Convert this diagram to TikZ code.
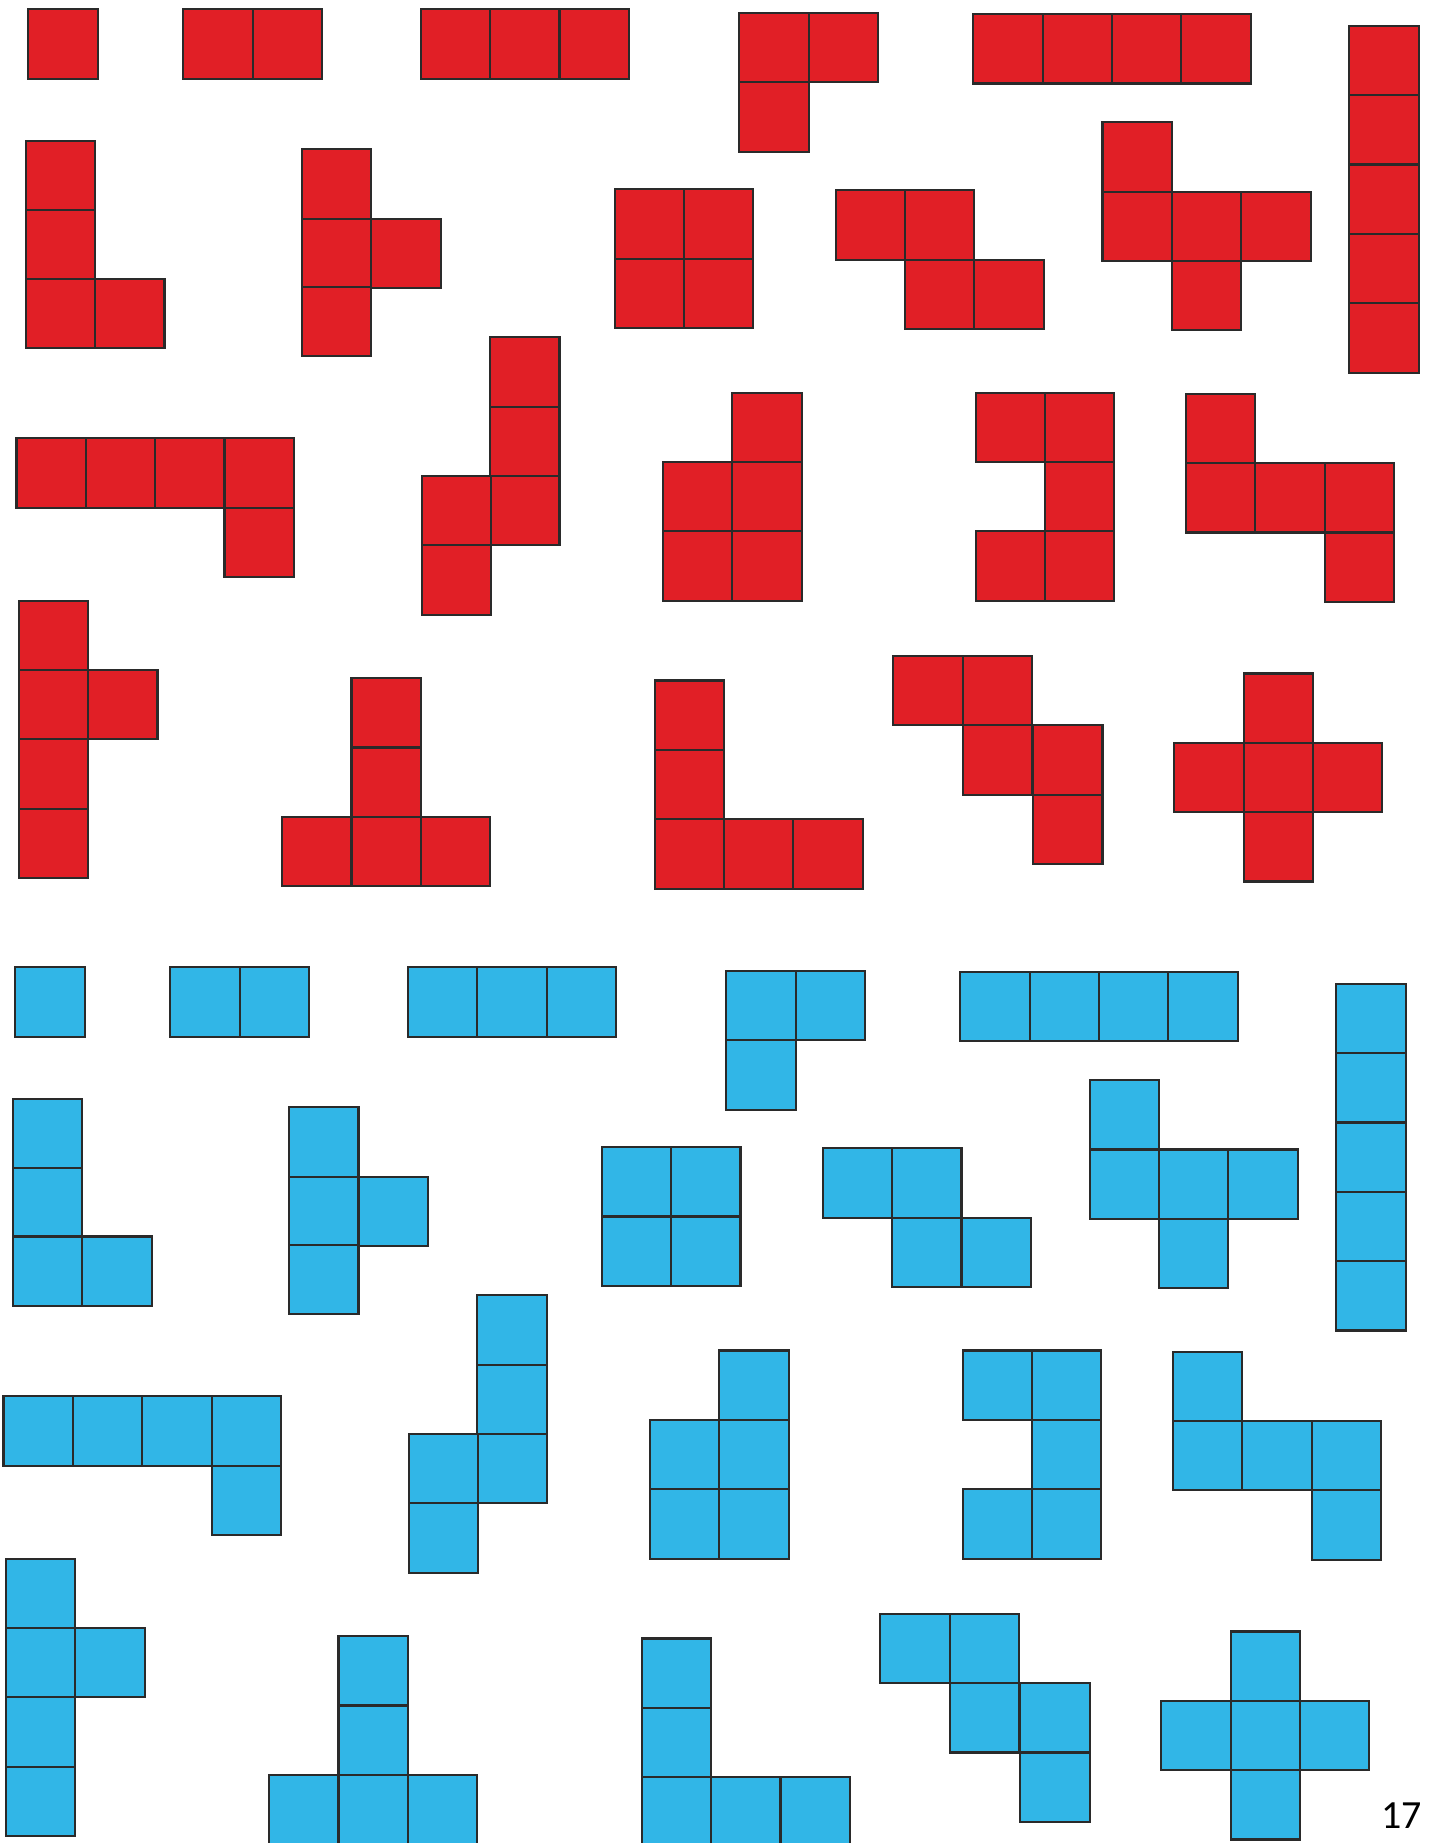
\documentclass[tikz,border=0pt]{standalone}
\usepackage{fontspec}
\setmainfont{Carlito}
\definecolor{pred}{HTML}{E11F26}
\definecolor{pblue}{HTML}{31B6E7}
\definecolor{pedge}{HTML}{2A2A2A}
\newcommand\sqlist{%
  24/8, 156/8, 215/8, 358/8, 417/8, 476/8,
  629/11, 688/11, 629/70,
  828/12, 887/12, 946/12, 1005/12,
  1148/22, 1148/81, 1148/140, 1148/199, 1148/258,
  22/120, 22/179, 22/237, 81/237,
  257/127, 257/186, 316/186, 257/244,
  523/161, 582/161, 523/220, 582/220,
  711/162, 770/162, 770/221, 829/221,
  938/104, 938/163, 997/163, 1056/163, 997/222,
  14/373, 73/373, 132/373, 191/373, 191/432,
  417/287, 417/346, 417/405, 359/405, 359/464,
  623/334, 564/393, 623/393, 564/452, 623/452,
  830/334, 889/334, 889/393, 830/452, 889/452,
  1009/335, 1009/394, 1068/394, 1127/394, 1127/453,
  16/511, 16/570, 75/570, 16/629, 16/688,
  299/577, 299/636, 240/695, 299/695, 358/695,
  557/579, 557/638, 557/697, 616/697, 675/697,
  760/558, 819/558, 819/617, 879/617, 879/676,
  1058/573, 999/632, 1058/632, 1117/632, 1058/691}
\tikzset{
  cell/.style={draw=pedge, line width=0.9pt},
  redcell/.style={cell, fill=pred},
  bluecell/.style={cell, fill=pblue},
  pagenum/.style={font=\fontsize{17}{20}\selectfont, inner sep=0pt, anchor=south east}
}
\begin{document}
\begin{tikzpicture}[x=0.5pt,y=-0.5pt]
\useasboundingbox (0,0) rectangle (1218,1568);
\fill[white] (0,0) rectangle (1218,1568);
\clip (0,0) rectangle (1218,1568);
\foreach \x/\y in \sqlist {
  \draw[redcell] (\x,\y) rectangle ++(59,59);
}
\begin{scope}[shift={(-11,815)}]
\foreach \x/\y in \sqlist {
  \draw[bluecell] (\x,\y) rectangle ++(59,59);
}
\end{scope}
\node[pagenum] (pg) at (1210,1556) {17};
\end{tikzpicture}
\end{document}
